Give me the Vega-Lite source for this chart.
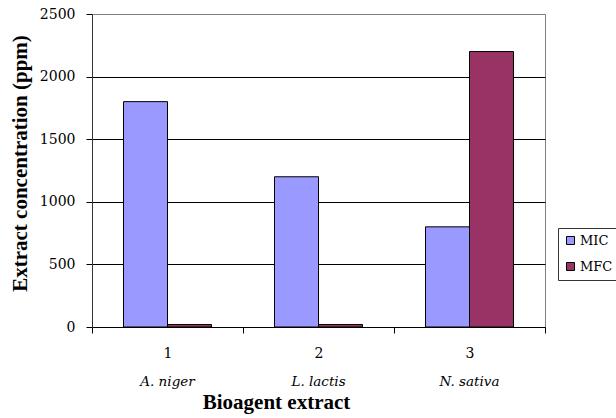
{
  "$schema": "https://vega.github.io/schema/vega-lite/v6.json",
  "width": 453,
  "height": 313,
  "autosize": {"type": "none"},
  "padding": {"left": 92, "top": 14, "right": 71, "bottom": 91},
  "background": "white",
  "config": {
    "font": "Liberation Serif",
    "view": {"stroke": "#808080", "strokeWidth": 1},
    "axis": {"labelColor": "black", "titleColor": "black"}
  },
  "data": {
    "values": [
      {"num": "1", "name": "A. niger", "series": "MIC", "value": 1800},
      {"num": "1", "name": "A. niger", "series": "MFC", "value": 20},
      {"num": "2", "name": "L. lactis", "series": "MIC", "value": 1200},
      {"num": "2", "name": "L. lactis", "series": "MFC", "value": 20},
      {"num": "3", "name": "N. sativa", "series": "MIC", "value": 800},
      {"num": "3", "name": "N. sativa", "series": "MFC", "value": 2200}
    ]
  },
  "layer": [
    {
      "mark": {"type": "bar", "stroke": "black", "strokeWidth": 1},
      "encoding": {
        "x": {
          "field": "num", "type": "nominal", "sort": null,
          "scale": {"paddingInner": 0, "paddingOuter": 0},
          "axis": {
            "title": null, "labelAngle": 0, "labelFontSize": 14, "labelFont": "DejaVu Serif",
            "tickBand": "extent", "tickSize": 6, "tickColor": "black",
            "domainColor": "black", "labelPadding": 13
          }
        },
        "xOffset": {
          "field": "series", "type": "nominal", "sort": ["MIC", "MFC"],
          "scale": {"paddingInner": 0, "paddingOuter": 0.716}
        },
        "y": {
          "field": "value", "type": "quantitative",
          "scale": {"domain": [0, 2500], "nice": false},
          "axis": {
            "title": "Extract concentration (ppm)",
            "titleFontSize": 21, "titleFontWeight": "bold", "titlePadding": 9, "titleFont": "Liberation Serif",
            "titleY": 149,
            "values": [0, 500, 1000, 1500, 2000, 2500], "format": "d",
            "labelFontSize": 14, "labelFont": "DejaVu Serif", "labelPadding": 11, "tickSize": 6,
            "tickColor": "black", "domainColor": "#333",
            "grid": true,
            "gridColor": {"condition": {"test": "datum.value === 2500", "value": "#808080"}, "value": "black"},
            "gridOpacity": 1
          }
        },
        "color": {
          "field": "series", "type": "nominal", "sort": ["MIC", "MFC"],
          "scale": {"domain": ["MIC", "MFC"], "range": ["#9999FF", "#993366"]},
          "legend": {
            "title": null, "orient": "none", "legendX": 466, "legendY": 214,
            "strokeColor": "#333", "padding": 6, "symbolType": "square",
            "symbolSize": 64, "symbolStrokeColor": "black", "symbolStrokeWidth": 1,
            "labelFontSize": 13, "labelFont": "DejaVu Serif", "labelColor": "black",
            "rowPadding": 12, "labelOffset": 3
          }
        }
      }
    },
    {
      "mark": {"type": "bar", "opacity": 0},
      "encoding": {
        "x": {
          "field": "name", "type": "nominal", "sort": null,
          "scale": {"paddingInner": 0, "paddingOuter": 0},
          "axis": {
            "orient": "bottom", "title": "Bioagent extract",
            "titleFontSize": 21, "titleFontWeight": "bold", "titlePadding": 4, "titleFont": "Liberation Serif",
            "titleX": 184,
            "labelAngle": 0, "labelFontSize": 13.5, "labelFontStyle": "italic", "labelFont": "DejaVu Serif",
            "domain": false, "ticks": false, "labelPadding": 47
          }
        },
        "y": {"field": "value", "type": "quantitative", "scale": {"domain": [0, 2500], "nice": false}}
      }
    }
  ],
  "resolve": {"scale": {"x": "independent"}, "axis": {"x": "independent"}}
}
